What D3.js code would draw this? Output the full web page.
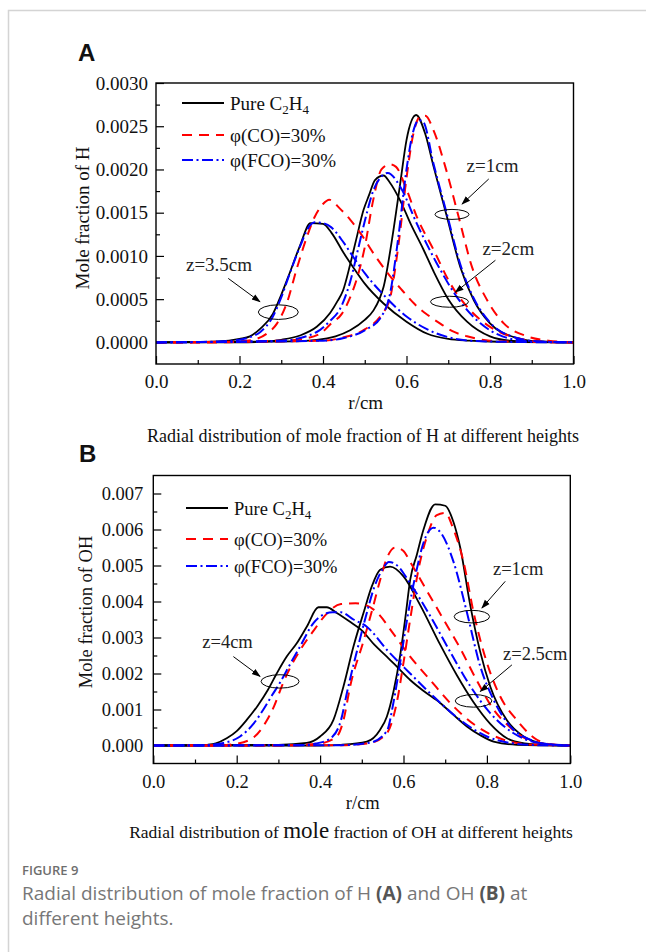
<!DOCTYPE html>
<html>
<head>
<meta charset="utf-8">
<title>Radial distribution of H and OH</title>
<script src="https://d3js.org/d3.v7.min.js"></script>
<style>
  body { margin: 0; background: #fff; }
</style>
</head>
<body>
<script>
// ---- data (r in cm, mole fraction) ----
var seriesNames = ["Pure C2H4", "φ(CO)=30%", "φ(FCO)=30%"];
var xTicks = [0, 0.2, 0.4, 0.6, 0.8, 1.0];
var hTicks = [0, 0.0005, 0.001, 0.0015, 0.002, 0.0025, 0.003];
var ohTicks = [0, 0.001, 0.002, 0.003, 0.004, 0.005, 0.006, 0.007];

// H, z=3.5cm
var hPure35 = [[0,0],[0.1,0.000005],[0.15,0.00001],[0.2,0.00004],[0.225,0.00007],[0.25,0.00016],[0.28,0.00033],[0.3,0.00055],[0.32,0.0008],[0.345,0.00112],[0.37,0.00138],[0.4,0.00137],[0.42,0.00127],[0.45,0.00103],[0.475,0.00085],[0.5,0.00068],[0.545,0.00045],[0.6,0.00024],[0.65,0.0001],[0.7,0.00004],[0.75,0.00002],[0.8,0.00001],[1,0]];
var hCO35 = [[0,0],[0.15,0],[0.2,0.00001],[0.24,0.00004],[0.265,0.0001],[0.29,0.00022],[0.313,0.00045],[0.337,0.00085],[0.36,0.0012],[0.38,0.00145],[0.4,0.0016],[0.415,0.00165],[0.44,0.00155],[0.465,0.00142],[0.49,0.00126],[0.525,0.001],[0.56,0.00077],[0.59,0.0006],[0.62,0.00044],[0.65,0.00032],[0.68,0.00022],[0.71,0.00013],[0.745,0.00007],[0.8,0.00002],[0.85,0.00001],[1,0]];
var hFCO35 = [[0,0],[0.1,0.000005],[0.15,0.00001],[0.2,0.00003],[0.225,0.00006],[0.25,0.00012],[0.28,0.0003],[0.3,0.00052],[0.32,0.00079],[0.345,0.00111],[0.37,0.00136],[0.38,0.00139],[0.4,0.00138],[0.42,0.00133],[0.45,0.00115],[0.475,0.00097],[0.5,0.0008],[0.545,0.00055],[0.6,0.0003],[0.65,0.00015],[0.7,0.00006],[0.75,0.00002],[0.8,0.00001],[1,0]];
// H, z=2cm
var hPure2 = [[0,0],[0.2,0],[0.265,0.00001],[0.3,0.00003],[0.345,0.00008],[0.385,0.00018],[0.417,0.00034],[0.435,0.00048],[0.448,0.0006],[0.465,0.0009],[0.48,0.0012],[0.497,0.00153],[0.51,0.0017],[0.525,0.00188],[0.545,0.00193],[0.56,0.00185],[0.585,0.00164],[0.61,0.00137],[0.64,0.00108],[0.665,0.00082],[0.7,0.0005],[0.745,0.00024],[0.8,0.00007],[0.85,0.00002],[0.9,0.00001],[1,0]];
var hCO2 = [[0,0],[0.3,0.00002],[0.35,0.00004],[0.393,0.0001],[0.42,0.00022],[0.445,0.00033],[0.465,0.00052],[0.485,0.0008],[0.5,0.0011],[0.52,0.00164],[0.54,0.002],[0.56,0.00206],[0.575,0.00203],[0.6,0.00177],[0.625,0.00145],[0.665,0.00107],[0.705,0.00068],[0.753,0.00037],[0.8,0.00018],[0.865,0.00005],[0.92,0.00001],[1,0]];
var hFCO2 = [[0,0],[0.3,0.00002],[0.385,0.00012],[0.417,0.00025],[0.44,0.00038],[0.465,0.0007],[0.485,0.0011],[0.5,0.0014],[0.52,0.00175],[0.54,0.00192],[0.555,0.00196],[0.585,0.0018],[0.625,0.00137],[0.673,0.00091],[0.72,0.00053],[0.777,0.00022],[0.83,0.00007],[0.9,0.00001],[1,0]];
// H, z=1cm
var hPure1 = [[0,0],[0.3,0.00001],[0.385,0.00003],[0.43,0.00007],[0.465,0.00014],[0.5,0.00026],[0.521,0.00037],[0.535,0.0005],[0.545,0.00064],[0.565,0.00118],[0.585,0.00184],[0.6,0.00234],[0.623,0.00263],[0.645,0.00241],[0.665,0.00203],[0.697,0.00145],[0.729,0.00087],[0.761,0.00049],[0.8,0.00022],[0.865,0.00005],[0.92,0.00001],[1,0]];
var hCO1 = [[0,0],[0.4,0.00002],[0.45,0.00006],[0.5,0.00015],[0.54,0.00032],[0.56,0.0005],[0.58,0.0011],[0.6,0.0019],[0.615,0.00238],[0.635,0.00262],[0.645,0.00262],[0.665,0.00245],[0.693,0.00203],[0.725,0.00145],[0.757,0.00087],[0.793,0.00049],[0.833,0.00022],[0.889,0.00007],[0.94,0.00002],[1,0]];
var hFCO1 = [[0,0],[0.4,0.00002],[0.45,0.00005],[0.5,0.00014],[0.54,0.0003],[0.56,0.00055],[0.58,0.0012],[0.6,0.002],[0.615,0.00242],[0.63,0.00257],[0.64,0.00255],[0.665,0.00206],[0.697,0.00148],[0.729,0.0009],[0.761,0.00051],[0.8,0.00023],[0.865,0.00005],[0.92,0.00001],[1,0]];

// OH, z=4cm
var ohPure4 = [[0,0],[0.1,0],[0.13,0.00002],[0.15,0.00006],[0.176,0.0002],[0.2,0.0004],[0.224,0.00071],[0.25,0.0011],[0.275,0.00155],[0.296,0.002],[0.32,0.00247],[0.344,0.00284],[0.368,0.0033],[0.396,0.00384],[0.416,0.00384],[0.44,0.00368],[0.47,0.00345],[0.5,0.0032],[0.53,0.0028],[0.56,0.00247],[0.59,0.00212],[0.616,0.00182],[0.65,0.0015],[0.688,0.00118],[0.72,0.00085],[0.752,0.00053],[0.785,0.00028],[0.816,0.00011],[0.872,0.00002],[1,0]];
var ohCO4 = [[0,0],[0.15,0],[0.2,0.00005],[0.24,0.00022],[0.27,0.00065],[0.29,0.0011],[0.31,0.0017],[0.33,0.0022],[0.355,0.0027],[0.385,0.0032],[0.415,0.00365],[0.45,0.00393],[0.485,0.00395],[0.51,0.0039],[0.536,0.0037],[0.576,0.0031],[0.616,0.00247],[0.664,0.00182],[0.712,0.00118],[0.776,0.00053],[0.84,0.00016],[0.9,0.00003],[1,0]];
var ohFCO4 = [[0,0],[0.12,0.00001],[0.168,0.00007],[0.208,0.00025],[0.24,0.0006],[0.264,0.001],[0.285,0.0014],[0.304,0.00175],[0.33,0.0023],[0.352,0.00275],[0.384,0.0034],[0.41,0.00365],[0.43,0.0037],[0.45,0.0037],[0.48,0.0035],[0.512,0.0033],[0.56,0.00266],[0.616,0.002],[0.672,0.00136],[0.736,0.00071],[0.8,0.00025],[0.856,0.00007],[0.92,0.00001],[1,0]];
// OH, z=2.5cm
var ohPure25 = [[0,0],[0.3,0.00002],[0.368,0.00007],[0.4,0.00025],[0.432,0.00071],[0.456,0.00164],[0.48,0.00275],[0.504,0.00368],[0.524,0.00442],[0.544,0.00488],[0.568,0.00497],[0.6,0.0047],[0.64,0.0039],[0.688,0.0028],[0.728,0.00195],[0.768,0.0012],[0.808,0.0006],[0.848,0.0002],[0.89,0.00006],[0.95,0.00001],[1,0]];
var ohCO25 = [[0,0],[0.3,0],[0.4,0.00006],[0.44,0.00025],[0.456,0.0007],[0.472,0.00164],[0.504,0.0029],[0.528,0.0039],[0.544,0.0046],[0.56,0.0052],[0.58,0.0055],[0.6,0.0054],[0.616,0.0051],[0.656,0.0043],[0.696,0.0035],[0.736,0.0027],[0.776,0.0018],[0.816,0.001],[0.856,0.0005],[0.9,0.00015],[0.95,0.00003],[1,0]];
var ohFCO25 = [[0,0],[0.35,0.00001],[0.4,0.00008],[0.43,0.00025],[0.45,0.0007],[0.465,0.0015],[0.49,0.0027],[0.51,0.0036],[0.53,0.0044],[0.55,0.0049],[0.565,0.0051],[0.585,0.005],[0.616,0.0045],[0.664,0.0036],[0.712,0.0026],[0.76,0.00165],[0.808,0.0009],[0.864,0.00034],[0.92,0.00008],[1,0]];
// OH, z=1cm
var ohPure1 = [[0,0],[0.4,0],[0.45,0.00002],[0.512,0.00011],[0.544,0.00044],[0.56,0.0008],[0.576,0.0015],[0.592,0.0025],[0.605,0.0036],[0.616,0.0046],[0.632,0.0053],[0.648,0.006],[0.676,0.0067],[0.7,0.00666],[0.72,0.0062],[0.736,0.0055],[0.76,0.0039],[0.784,0.0026],[0.808,0.00164],[0.848,0.0007],[0.888,0.00025],[0.928,0.00007],[0.97,0.00001],[1,0]];
var ohCO1 = [[0,0],[0.45,0.00001],[0.52,0.00007],[0.56,0.00034],[0.584,0.0012],[0.6,0.0023],[0.616,0.0035],[0.636,0.0049],[0.656,0.0058],[0.68,0.0064],[0.7,0.00646],[0.72,0.006],[0.744,0.0051],[0.768,0.0037],[0.8,0.0023],[0.832,0.00136],[0.872,0.0007],[0.92,0.00016],[0.96,0.00002],[1,0]];
var ohFCO1 = [[0,0],[0.45,0.00001],[0.52,0.00008],[0.56,0.0004],[0.576,0.0012],[0.592,0.0023],[0.61,0.0036],[0.63,0.0048],[0.65,0.0057],[0.672,0.00605],[0.69,0.0059],[0.72,0.0051],[0.752,0.0037],[0.784,0.0022],[0.816,0.00127],[0.856,0.00053],[0.904,0.00016],[0.95,0.00003],[1,0]];

// annotation labels (height label, arrow tail/head and ellipse centre in data units)
var hNotes = [
  { text: "z=1cm",   tx: 0.806, ty: 0.00197, a: [0.797, 0.00189, 0.733, 0.00160], e: [0.709, 0.00148], rx: 17, ry: 5 },
  { text: "z=2cm",   tx: 0.844, ty: 0.00101, a: [0.813, 0.00095, 0.717, 0.00058], e: [0.703, 0.00047], rx: 19, ry: 5.5 },
  { text: "z=3.5cm", tx: 0.151, ty: 0.00082, a: [0.173, 0.00074, 0.249, 0.00047], e: [0.293, 0.00035], rx: 20, ry: 7.3 }
];
var ohNotes = [
  { text: "z=1cm",   tx: 0.875, ty: 0.00474, a: [0.844, 0.00456, 0.788, 0.00382], e: [0.764, 0.00358], rx: 17.7, ry: 6.3 },
  { text: "z=2.5cm", tx: 0.916, ty: 0.00238, a: [0.860, 0.00224, 0.784, 0.00150], e: [0.768, 0.00124], rx: 18.3, ry: 6.3 },
  { text: "z=4cm",   tx: 0.178, ty: 0.00271, a: [0.192, 0.00247, 0.256, 0.00192], e: [0.304, 0.00178], rx: 19, ry: 6.7 }
];

// ---- drawing ----
var width = 646, height = 952;
var serif = "'Liberation Serif', 'Times New Roman', serif";

var svg = d3.select("body").append("svg")
  .attr("width", width)
  .attr("height", height)
  .style("display", "block");

// card border
svg.append("path")
  .attr("d", "M8.5," + height + "V10.5H" + width)
  .attr("fill", "none")
  .attr("stroke", "#d4d4d4")
  .attr("stroke-width", 1.5);

var styles = [
  { color: "#000", dash: null, w: 1.8 },
  { color: "#ff0000", dash: "10,7", w: 2 },
  { color: "#0000ff", dash: "11,3.5,2,3.5", w: 2 }
];

svg.append("defs").append("marker")
  .attr("id", "arrow")
  .attr("viewBox", "0 0 10 10")
  .attr("refX", 9).attr("refY", 5)
  .attr("markerWidth", 9).attr("markerHeight", 9)
  .attr("markerUnits", "userSpaceOnUse")
  .attr("orient", "auto")
  .append("path")
  .attr("d", "M0,1.5L10,5L0,8.5z")
  .attr("fill", "#000");

function drawPanel(p) {
  var x = d3.scaleLinear().domain([0, 1]).range([p.left, p.right]);
  var y = d3.scaleLinear().domain(p.yDomain).range([p.bottom, p.top]);
  var g = svg.append("g");

  // x axis: inward ticks, minor every 0.1
  g.append("g")
    .attr("transform", "translate(0," + p.bottom + ")")
    .call(d3.axisBottom(x).tickValues(d3.range(0.1, 1, 0.2)).tickSize(-4).tickFormat(""))
    .call(function (s) { s.select(".domain").remove(); });
  g.append("g")
    .attr("transform", "translate(0," + p.bottom + ")")
    .call(d3.axisBottom(x).tickValues(xTicks).tickSize(-8).tickPadding(p.xPad).tickFormat(d3.format(".1f")))
    .call(function (s) {
      s.select(".domain").remove();
      s.selectAll("text").attr("font-family", serif).attr("font-size", p.fs).attr("fill", "#111");
    });

  // y axis
  var minor = p.yTicks.slice(0, -1).map(function (d, i) { return (d + p.yTicks[i + 1]) / 2; });
  if (p.yDomain[1] > p.yTicks[p.yTicks.length - 1]) minor.push(p.yTicks[p.yTicks.length - 1] + (p.yTicks[1] - p.yTicks[0]) / 2);
  minor.push(p.yTicks[0] - (p.yTicks[1] - p.yTicks[0]) / 2);
  g.append("g")
    .attr("transform", "translate(" + p.left + ",0)")
    .call(d3.axisLeft(y).tickValues(minor.filter(function (d) { return d > p.yDomain[0] && d < p.yDomain[1]; })).tickSize(-4).tickFormat(""))
    .call(function (s) { s.select(".domain").remove(); });
  g.append("g")
    .attr("transform", "translate(" + p.left + ",0)")
    .call(d3.axisLeft(y).tickValues(p.yTicks).tickSize(-8).tickPadding(p.yPad).tickFormat(d3.format(p.yFmt)))
    .call(function (s) {
      s.select(".domain").remove();
      s.selectAll("text").attr("font-family", serif).attr("font-size", p.fs).attr("fill", "#111");
    });
  g.selectAll(".tick line").attr("stroke", "#000").attr("stroke-width", 1.2);

  // curves: each height has pure, CO, FCO
  var line = d3.line()
    .x(function (d) { return x(d[0]); })
    .y(function (d) { return y(d[1]); })
    .curve(d3.curveMonotoneX);
  [0, 1, 2].forEach(function (k) {
    p.curves.forEach(function (set) {
      g.append("path")
        .datum(set[k])
        .attr("d", line)
        .attr("fill", "none")
        .attr("stroke", styles[k].color)
        .attr("stroke-width", styles[k].w)
        .attr("stroke-dasharray", styles[k].dash)
        .attr("stroke-linejoin", "round");
    });
  });

  // frame
  g.append("rect")
    .attr("x", p.left).attr("y", p.top)
    .attr("width", p.right - p.left).attr("height", p.bottom - p.top)
    .attr("fill", "none").attr("stroke", "#000").attr("stroke-width", 1.4);

  // legend
  var lg = g.append("g");
  seriesNames.forEach(function (name, i) {
    var ly = p.legY[i];
    lg.append("line")
      .attr("x1", p.legX).attr("x2", p.legX + 42)
      .attr("y1", ly).attr("y2", ly)
      .attr("stroke", styles[i].color)
      .attr("stroke-width", styles[i].w)
      .attr("stroke-dasharray", styles[i].dash);
    var t = lg.append("text")
      .attr("x", p.legX + 48).attr("y", ly + 6.5)
      .attr("font-family", serif).attr("font-size", p.fs).attr("fill", "#111");
    if (i === 0) {
      t.append("tspan").text("Pure C");
      t.append("tspan").attr("font-size", 13).attr("dy", 4).text("2");
      t.append("tspan").attr("dy", -4).text("H");
      t.append("tspan").attr("font-size", 13).attr("dy", 4).text("4");
    } else {
      t.text(name);
    }
  });

  // height annotations
  p.notes.forEach(function (n) {
    g.append("text")
      .attr("x", x(n.tx)).attr("y", y(n.ty))
      .attr("text-anchor", "middle")
      .attr("font-family", serif).attr("font-size", p.fs).attr("fill", "#222")
      .text(n.text);
    g.append("line")
      .attr("x1", x(n.a[0])).attr("y1", y(n.a[1]))
      .attr("x2", x(n.a[2])).attr("y2", y(n.a[3]))
      .attr("stroke", "#000").attr("stroke-width", 1)
      .attr("marker-end", "url(#arrow)");
    g.append("ellipse")
      .attr("cx", x(n.e[0])).attr("cy", y(n.e[1]))
      .attr("rx", n.rx).attr("ry", n.ry)
      .attr("fill", "none").attr("stroke", "#000").attr("stroke-width", 1);
  });

  // axis titles
  g.append("text")
    .attr("transform", "translate(" + p.yTitleX + "," + p.yTitleY + ") rotate(-90)")
    .attr("text-anchor", "middle").attr("dy", "0.35em")
    .attr("font-family", serif).attr("font-size", p.fs).attr("fill", "#111")
    .text(p.yTitle);
  g.append("text")
    .attr("x", (p.left + p.right) / 2 + 1).attr("y", p.bottom + 45)
    .attr("text-anchor", "middle")
    .attr("font-family", serif).attr("font-size", p.fs).attr("fill", "#111")
    .text("r/cm");

  // panel letter
  g.append("text")
    .attr("x", p.letterX).attr("y", p.letterY)
    .attr("font-family", "'Liberation Sans', Arial, sans-serif")
    .attr("font-weight", "bold").attr("font-size", 24).attr("fill", "#111")
    .text(p.letter);
}

drawPanel({
  letter: "A", letterX: 78, letterY: 61,
  left: 156, right: 573.5, top: 83, bottom: 364,
  yDomain: [-0.00025, 0.003], yTicks: hTicks, yFmt: ".4f",
  fs: 19, xPad: 11, yPad: 8,
  curves: [[hPure1, hCO1, hFCO1], [hPure2, hCO2, hFCO2], [hPure35, hCO35, hFCO35]],
  legX: 182, legY: [103, 135, 160],
  notes: hNotes,
  yTitle: "Mole fraction of H", yTitleX: 82, yTitleY: 218
});

drawPanel({
  letter: "B", letterX: 79, letterY: 462,
  left: 153.3, right: 570.3, top: 475.5, bottom: 763.5,
  yDomain: [-0.0005, 0.0075], yTicks: ohTicks, yFmt: ".3f",
  fs: 18.5, xPad: 11, yPad: 10,
  curves: [[ohPure1, ohCO1, ohFCO1], [ohPure25, ohCO25, ohFCO25], [ohPure4, ohCO4, ohFCO4]],
  legX: 186, legY: [508, 539, 566],
  notes: ohNotes,
  yTitle: "Mole fraction of OH", yTitleX: 86, yTitleY: 612
});

// sub-titles under each panel
svg.append("text")
  .attr("x", 363).attr("y", 442)
  .attr("text-anchor", "middle")
  .attr("font-family", serif).attr("font-size", 18).attr("fill", "#111")
  .text("Radial distribution of mole fraction of H at different heights");

var sub = svg.append("text")
  .attr("x", 351).attr("y", 838)
  .attr("text-anchor", "middle")
  .attr("font-family", serif).attr("font-size", 17.5).attr("fill", "#111");
sub.append("tspan").text("Radial distribution of ");
sub.append("tspan").attr("font-size", 23).text("mole");
sub.append("tspan").text(" fraction of OH at different heights");

// figure caption
var sans = "'Open Sans', 'Noto Sans', sans-serif";
svg.append("text")
  .attr("x", 22).attr("y", 875)
  .attr("font-family", sans).attr("font-size", 13).attr("font-weight", 600)
  .attr("fill", "#6e6e6e")
  .text("FIGURE 9");

var cap1 = svg.append("text")
  .attr("x", 22).attr("y", 900)
  .attr("font-family", sans).attr("font-size", 19).attr("fill", "#777");
cap1.append("tspan").text("Radial distribution of mole fraction of H ");
cap1.append("tspan").attr("font-weight", 700).attr("fill", "#555").text("(A)");
cap1.append("tspan").text(" and OH ");
cap1.append("tspan").attr("font-weight", 700).attr("fill", "#555").text("(B)");
cap1.append("tspan").text(" at");

svg.append("text")
  .attr("x", 22).attr("y", 925)
  .attr("font-family", sans).attr("font-size", 19).attr("fill", "#777")
  .text("different heights.");
</script>
</body>
</html>
